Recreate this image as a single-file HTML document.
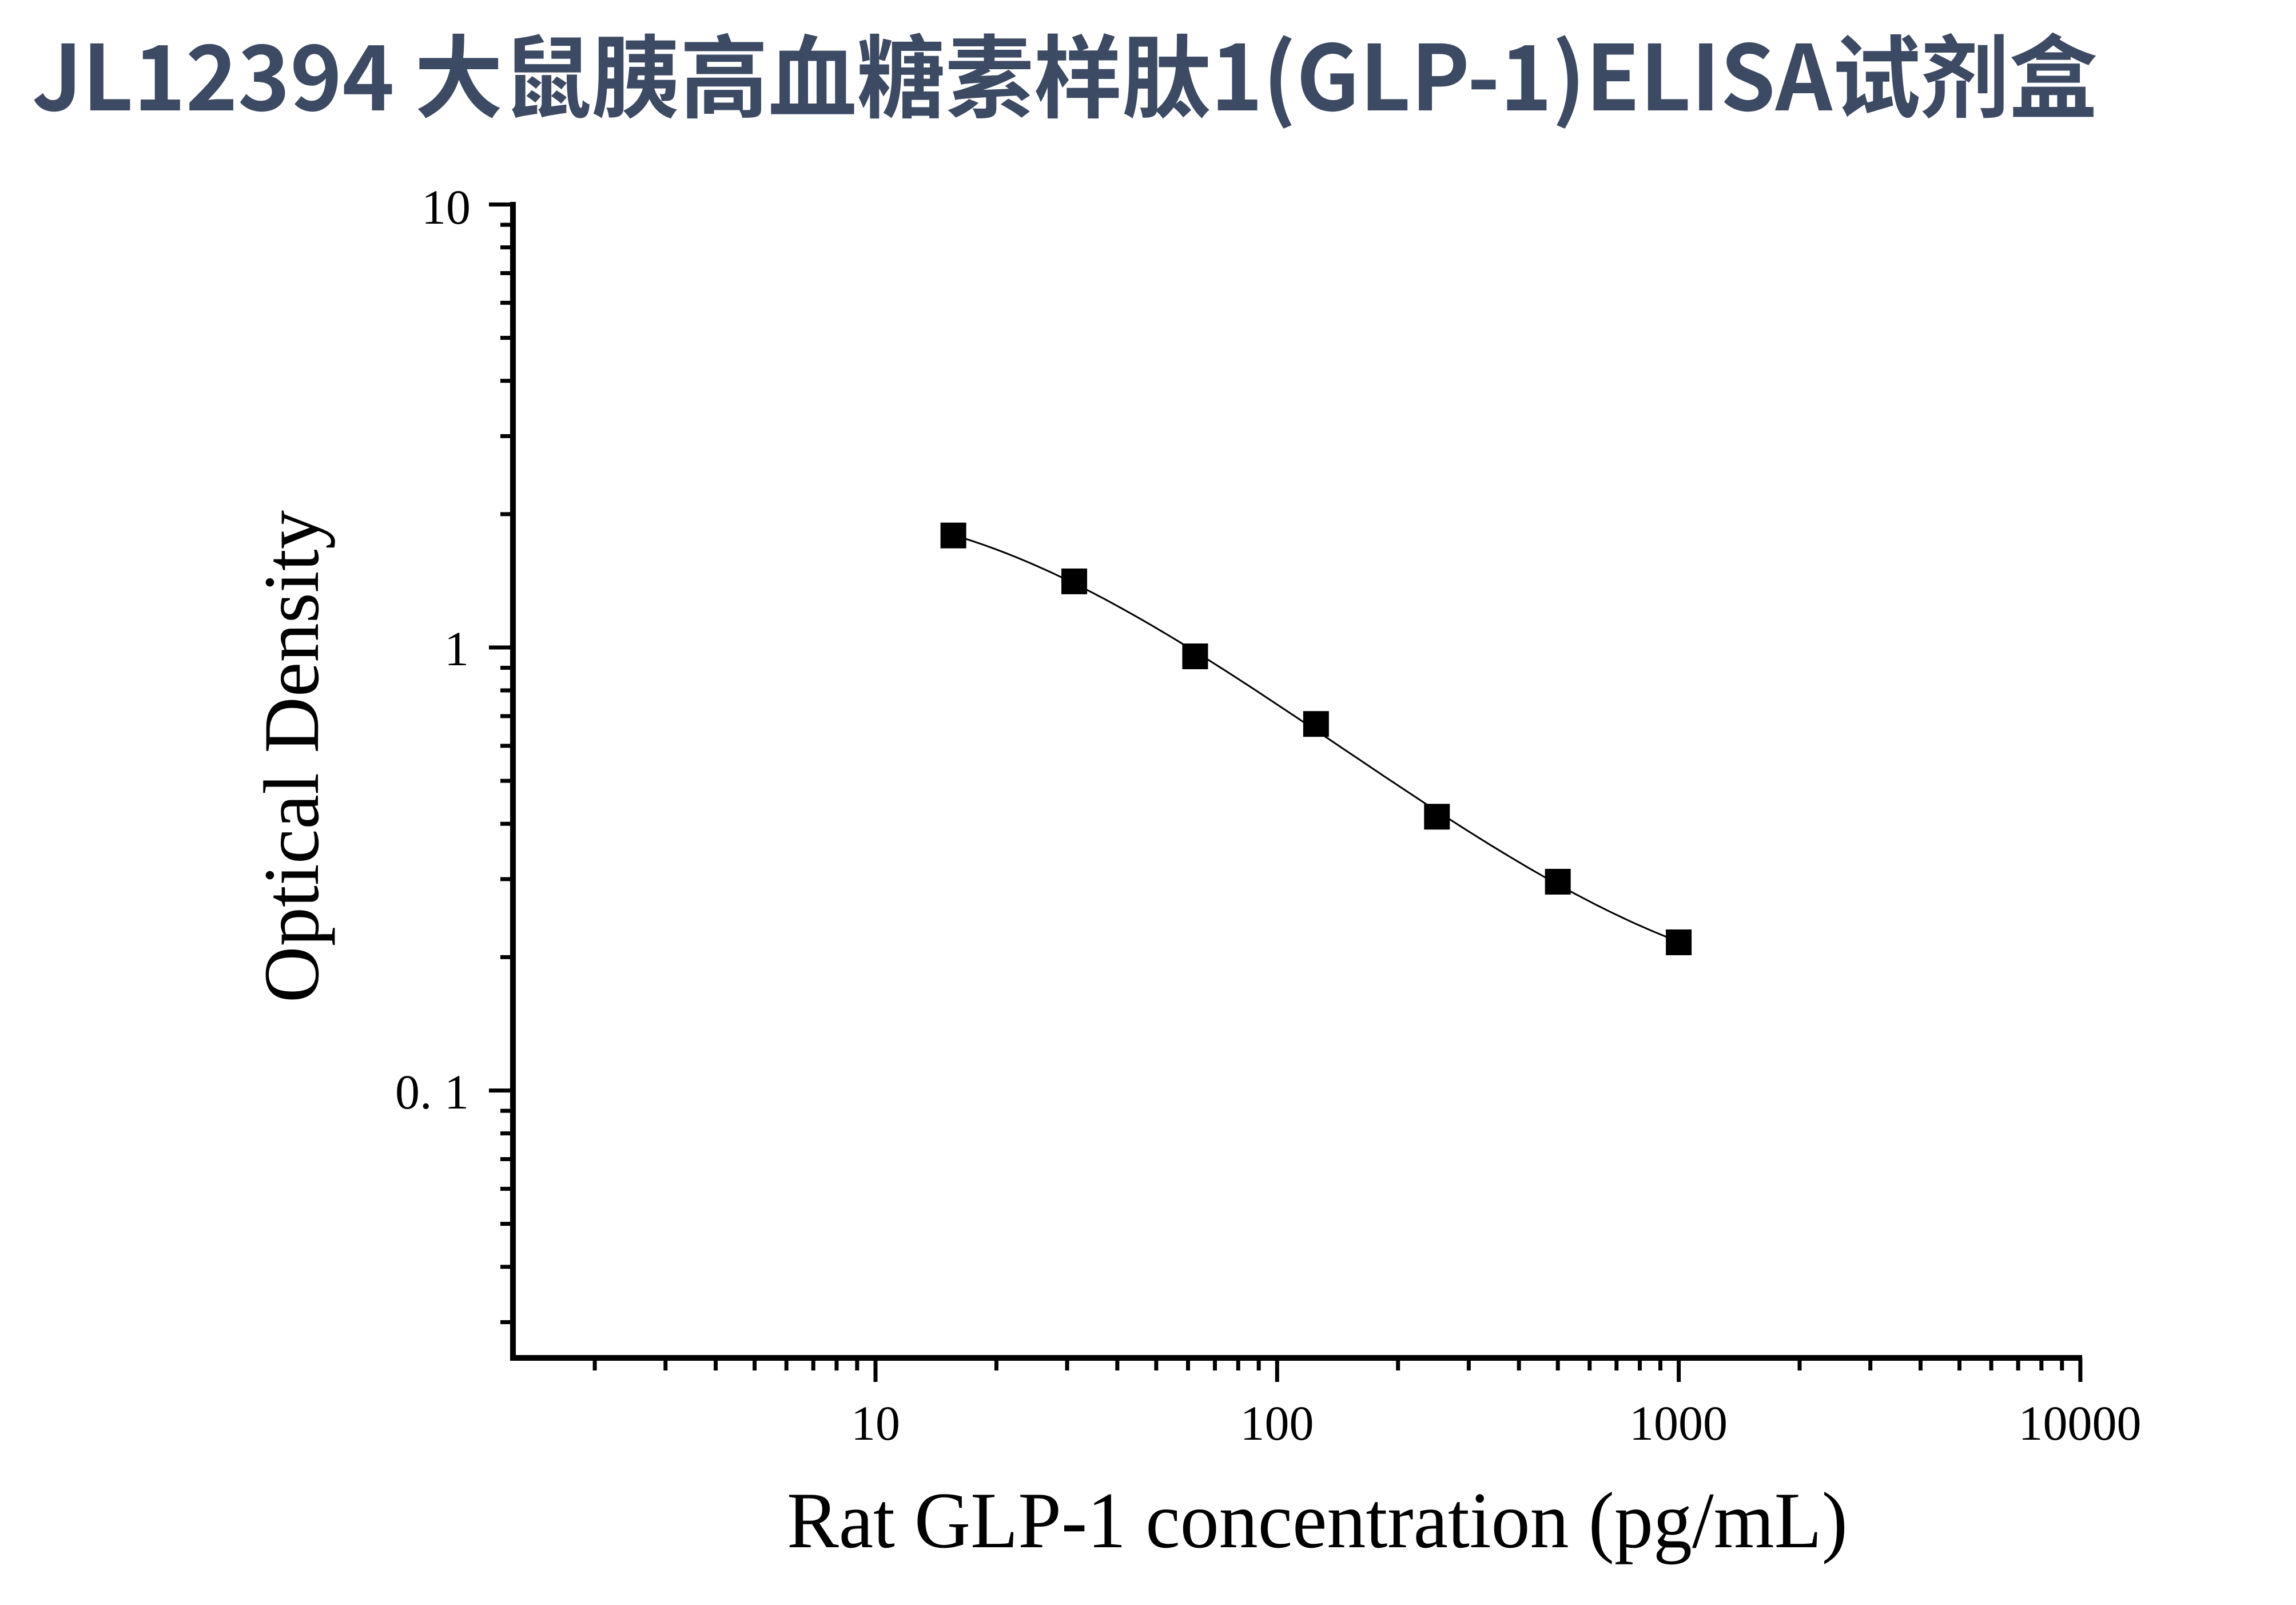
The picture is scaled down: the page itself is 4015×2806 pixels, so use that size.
<!DOCTYPE html>
<html><head><meta charset="utf-8"><style>
html,body{margin:0;padding:0;background:#fff;}
svg{display:block;}
</style></head><body>
<svg id="s" width="4015" height="2806" viewBox="0 0 4015 2806" xmlns="http://www.w3.org/2000/svg">
<rect width="4015" height="2806" fill="#fff"/>
<text x="56" y="193" font-family="'Noto Sans CJK SC','Liberation Sans',sans-serif" font-weight="bold" font-size="158" fill="#3d4a63" textLength="3612" lengthAdjust="spacingAndGlyphs">JL12394 大鼠胰高血糖素样肽1(GLP-1)ELISA试剂盒</text>
<g id="ax" stroke="#000" fill="none"></g>
<g font-family="'Liberation Serif',serif" font-size="86" fill="#000">
<text x="823" y="391" text-anchor="end">10</text>
<text x="820" y="1163" text-anchor="end">1</text>
<text x="820" y="1938" text-anchor="end">0. 1</text>
<text x="1531" y="2517" text-anchor="middle">10</text>
<text x="2233" y="2517" text-anchor="middle">100</text>
<text x="2935" y="2517" text-anchor="middle">1000</text>
<text x="3637" y="2517" text-anchor="middle">10000</text>
</g>
<text x="1376" y="2705" font-family="'Liberation Serif',serif" font-size="140" textLength="1855" lengthAdjust="spacingAndGlyphs">Rat GLP-1 concentration (pg/mL)</text>
<text transform="translate(556,1753) rotate(-90)" x="0" y="0" font-family="'Liberation Serif',serif" font-size="138" textLength="861" lengthAdjust="spacingAndGlyphs">Optical Density</text>
<path id="curve" fill="none" stroke="#000" stroke-width="3"/>
<g id="pts" fill="#000"></g>
</svg>
<script>
(function(){
var NS="http://www.w3.org/2000/svg";
function X(v){return 1531+(Math.log10(v)-1)*702.3;}
function Y(v){return 1132-Math.log10(v)*774.5;}
var ax=document.getElementById('ax');
function line(x1,y1,x2,y2,w){var l=document.createElementNS(NS,'line');l.setAttribute('x1',x1);l.setAttribute('y1',y1);l.setAttribute('x2',x2);l.setAttribute('y2',y2);l.setAttribute('stroke-width',w);ax.appendChild(l);}
var AX=897,AY=2374,TOP=358,RIGHT=3638;
line(AX,TOP-5,AX,AY+5,10);
line(AX-5,AY,RIGHT+3,AY,10);
[10,1,0.1].forEach(function(v){line(AX-42,Y(v),AX,Y(v),7);});
[[1,10],[0.1,1],[0.01,0.1]].forEach(function(d){for(var k=2;k<10;k++){var v=d[0]*k;var y=Y(v);if(y>TOP&&y<AY-10)line(AX-22,y,AX,y,7);}});
[10,100,1000,10000].forEach(function(v){line(X(v),AY,X(v),AY+42,7);});
[1,10,100,1000].forEach(function(d){for(var k=2;k<10;k++){var x=X(d*k);if(x>AX+10&&x<RIGHT)line(x,AY,x,AY+22,7);}});
var c=[15.625,31.25,62.5,125,250,500,1000],o=[1.79,1.41,0.955,0.672,0.415,0.296,0.216];
var n=4,A=[],B=[];
for(var i=0;i<n;i++){A.push([0,0,0,0]);B.push(0);}
c.forEach(function(v,k){var t=Math.log10(v)-2,yy=Math.log10(o[k]);for(var i=0;i<n;i++){B[i]+=Math.pow(t,i)*yy;for(var j=0;j<n;j++)A[i][j]+=Math.pow(t,i+j);}});
for(var i=0;i<n;i++){for(var r=i+1;r<n;r++){var f=A[r][i]/A[i][i];for(var j=i;j<n;j++)A[r][j]-=f*A[i][j];B[r]-=f*B[i];}}
var co=[0,0,0,0];for(var i=n-1;i>=0;i--){var s=B[i];for(var j=i+1;j<n;j++)s-=A[i][j]*co[j];co[i]=s/A[i][i];}
var d="";
for(var k=0;k<=120;k++){var lc=Math.log10(15.625)+(3-Math.log10(15.625))*k/120;var t=lc-2;var ly=co[0]+co[1]*t+co[2]*t*t+co[3]*t*t*t;
var px=1531+(lc-1)*702.3,py=1132-ly*774.5;d+=(k?" L":"M")+px.toFixed(1)+","+py.toFixed(1);}
document.getElementById('curve').setAttribute('d',d);
var g=document.getElementById('pts');
c.forEach(function(v,k){var r=document.createElementNS(NS,'rect');r.setAttribute('x',X(v)-22.5);r.setAttribute('y',Y(o[k])-22.5);r.setAttribute('width',45);r.setAttribute('height',45);g.appendChild(r);});
})();
</script>
</body></html>
